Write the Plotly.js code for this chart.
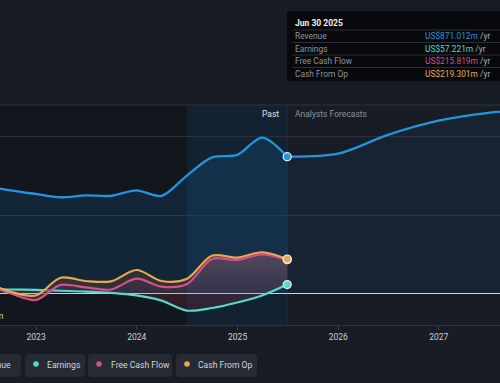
<!DOCTYPE html>
<html><head><meta charset="utf-8">
<script src="https://cdn.plot.ly/plotly-3.0.1.min.js"></script>
<style>html,body{margin:0;padding:0;background:#171c25;}#chart{width:500px;height:383px;}</style>
</head><body><div id="chart"></div>
<script>
// ---- data ----
const pastDates = ['2022-06-30','2022-09-30','2022-12-31','2023-03-31','2023-06-30','2023-09-30','2023-12-31','2024-03-31','2024-06-30','2024-09-30','2024-12-31','2025-03-31','2025-06-30'];
const revenue      = [685, 657, 634, 613, 625, 622, 657, 622, 749, 867, 883, 993, 871.012];
const earnings     = [29, 26, 23, 18, 13, 4, -12, -45, -108, -92, -57, -12, 57.221];
const freeCashFlow = [58, 2, -41, 55, 39, 26, 95, 44, 59, 220, 214, 250, 215.819];
const cashFromOp   = [74, 12, -12, 101, 80, 78, 150, 80, 93, 241, 229, 263, 219.301];
const forecastDates = ['2025-06-30','2025-12-31','2026-06-30','2026-12-31','2027-06-30','2027-12-31'];
const revenueForecast = [871.012, 890, 1010, 1100, 1150, 1175];
const yearTicks  = ['2023-01-01','2024-01-01','2025-01-01','2026-01-01','2027-01-01'];
const yearLabels = ['2023','2024','2025','2026','2027'];
const seriesNames = ['Revenue','Earnings','Free Cash Flow','Cash From Op'];
const latestLabels = ['US$871.012m','US$57.221m','US$215.819m','US$219.301m'];
const tooltipDate = 'Jun 30 2025';
const yGridVals = [0, 500, 1000];

// ---- styles ----
const C = {rev:'#2394df', earn:'#58d9c9', fcf:'#d64f8c', cfo:'#e9a84f'};
const seriesColors = [C.rev, C.earn, C.fcf, C.cfo];
const FONT = 'Roboto, "Open Sans", sans-serif';

// pixel -> paper helpers (plot area: x 0..500, y 105..325)
const X = px => px/500;
const Y = py => (325-py)/220;
function roundRect(x0,y0,x1,y1,r){
  return `M${X(x0+r)},${Y(y0)} L${X(x1-r)},${Y(y0)} Q${X(x1)},${Y(y0)} ${X(x1)},${Y(y0+r)} `+
         `L${X(x1)},${Y(y1-r)} Q${X(x1)},${Y(y1)} ${X(x1-r)},${Y(y1)} L${X(x0+r)},${Y(y1)} `+
         `Q${X(x0)},${Y(y1)} ${X(x0)},${Y(y1-r)} L${X(x0)},${Y(y0+r)} Q${X(x0)},${Y(y0)} ${X(x0+r)},${Y(y0)} Z`;
}

const lastIdx = pastDates.length-1;
const splineLine = (color,w) => ({color:color, width:w, shape:'spline', smoothing:0.9});

const traces = [
  {x:pastDates, y:revenue, mode:'lines', line:splineLine(C.rev,2.3), fill:'tozeroy', fillcolor:'rgba(33,150,243,0.13)', hoverinfo:'skip'},
  {x:forecastDates, y:revenueForecast, mode:'lines', line:splineLine(C.rev,2.3), fill:'tozeroy', fillcolor:'rgba(33,150,243,0.06)', hoverinfo:'skip'},
  {x:pastDates, y:earnings, mode:'lines', line:splineLine(C.earn,2.2), hoverinfo:'skip'},
  {x:pastDates, y:freeCashFlow, mode:'lines', line:splineLine(C.fcf,2.2), fill:'tonexty', fillcolor:'rgba(215,90,110,0.2)',
   fillgradient:{type:'vertical', colorscale:[[0,'rgba(190,40,70,0.14)'],[0.5,'rgba(210,95,115,0.2)'],[1,'rgba(228,130,140,0.3)']]}, hoverinfo:'skip'},
  {x:pastDates, y:cashFromOp, mode:'lines', line:splineLine(C.cfo,2.2), fill:'tonexty', fillcolor:'rgba(75,62,50,0.5)', hoverinfo:'skip'},
  {x:[pastDates[lastIdx],pastDates[lastIdx],pastDates[lastIdx],pastDates[lastIdx]],
   y:[revenue[lastIdx], earnings[lastIdx], freeCashFlow[lastIdx], cashFromOp[lastIdx]],
   mode:'markers', marker:{size:8, color:[C.rev,C.earn,C.fcf,C.cfo], line:{color:'#e6e6e6', width:1.3}}, hoverinfo:'skip'}
];

const shapes = [
  {type:'rect', xref:'x', yref:'paper', x0:'2022-01-01', x1:pastDates[lastIdx], y0:0, y1:1, fillcolor:'#12161d', line:{width:0}, layer:'below'},
  {type:'rect', xref:'x', yref:'paper', x0:'2024-07-01', x1:pastDates[lastIdx], y0:0, y1:1, fillcolor:'rgba(33,150,243,0.09)', line:{width:0}, layer:'below'},
  {type:'line', xref:'x', yref:'paper', x0:pastDates[lastIdx], x1:pastDates[lastIdx], y0:0, y1:1, line:{color:'rgba(255,255,255,0.07)', width:1}, layer:'below'},
  {type:'line', xref:'paper', yref:'paper', x0:0, x1:1, y0:1, y1:1, line:{color:'#2c313a', width:1}},
  // tooltip box
  {type:'rect', xref:'paper', yref:'paper', x0:X(287), x1:X(520), y0:Y(81), y1:Y(11), fillcolor:'#07090c', line:{width:0}},
];
[30, 42.5, 55, 67.5].forEach(py => shapes.push({type:'line', xref:'paper', yref:'paper', x0:X(292), x1:X(520), y0:Y(py), y1:Y(py), line:{color:'#2a2e35', width:1}}));

// legend pills
const pills = [[-70,21],[25,85],[88,172],[176,257]];
pills.forEach(p => shapes.push({type:'path', xref:'paper', yref:'paper', path:roundRect(p[0],354,p[1],377,3.5), fillcolor:'#262a33', line:{width:0}}));
const dotX = [-60, 36, 99, 187];
dotX.forEach((cx,i) => shapes.push({type:'circle', xref:'paper', yref:'paper', x0:X(cx-2.8), x1:X(cx+2.8), y0:Y(364+2.8), y1:Y(364-2.8), fillcolor:seriesColors[i], line:{width:0}}));

const annotations = [
  {xref:'paper', yref:'paper', x:X(281), y:Y(114), xanchor:'right', yanchor:'middle', text:'Past', showarrow:false, font:{family:FONT, size:8.5, color:'#e0e0e0'}},
  {xref:'paper', yref:'paper', x:X(293), y:Y(114), xanchor:'left', yanchor:'middle', text:'Analysts Forecasts', showarrow:false, font:{family:FONT, size:8.5, color:'#8d939b'}},
  {xref:'paper', yref:'paper', x:X(5), y:Y(316), xanchor:'right', yanchor:'middle', text:'-US$200m', showarrow:false, font:{family:FONT, size:8.5, color:'#c0c4c9'}},
  {xref:'paper', yref:'paper', x:X(293), y:Y(23), xanchor:'left', yanchor:'middle', text:'<b>'+tooltipDate+'</b>', showarrow:false, font:{family:FONT, size:8.5, color:'#f0f0f0'}},
];
const rowY = [36, 48.5, 61, 73.5];
seriesNames.forEach((n,i) => {
  annotations.push({xref:'paper', yref:'paper', x:X(293), y:Y(rowY[i]), xanchor:'left', yanchor:'middle', text:n, showarrow:false, font:{family:FONT, size:8.4, color:'#8e949b'}});
  annotations.push({xref:'paper', yref:'paper', x:X(423), y:Y(rowY[i]), xanchor:'left', yanchor:'middle', text:'<span style="color:'+seriesColors[i]+'">'+latestLabels[i]+'</span> /yr', showarrow:false, font:{family:FONT, size:8.4, color:'#a9adb3'}});
});
const legendTextX = [13, 45, 109, 196];
seriesNames.forEach((n,i) => {
  annotations.push({xref:'paper', yref:'paper', x:X(legendTextX[i]), y:Y(365), xanchor:i===0?'right':'left', yanchor:'middle', text:n, showarrow:false, font:{family:FONT, size:8.6, color:'#d2d5d9'}});
});

const layout = {
  width:500, height:383,
  margin:{l:0, r:0, t:105, b:58, pad:0},
  paper_bgcolor:'#171c25', plot_bgcolor:'#171c25',
  showlegend:false,
  font:{family:FONT, color:'#d0d0d0', size:8.5},
  xaxis:{type:'date', range:['2022-08-23','2027-08-11'], tickvals:yearTicks, ticktext:yearLabels,
         showgrid:false, zeroline:false, showline:true, linecolor:'#2e333c', linewidth:1,
         ticks:'outside', ticklen:4, tickcolor:'#3a3f48', tickfont:{family:FONT, size:8.5, color:'#cfd2d6'}, fixedrange:true},
  yaxis:{range:[-200,1200], tickvals:yGridVals, showticklabels:false, gridcolor:'#2a2f38', gridwidth:1,
         zeroline:true, zerolinecolor:'#d4d6d9', zerolinewidth:1.5, showline:false, fixedrange:true},
  shapes:shapes, annotations:annotations, hovermode:false
};

Plotly.newPlot('chart', traces, layout, {displayModeBar:false, staticPlot:true});
</script>
</body></html>
